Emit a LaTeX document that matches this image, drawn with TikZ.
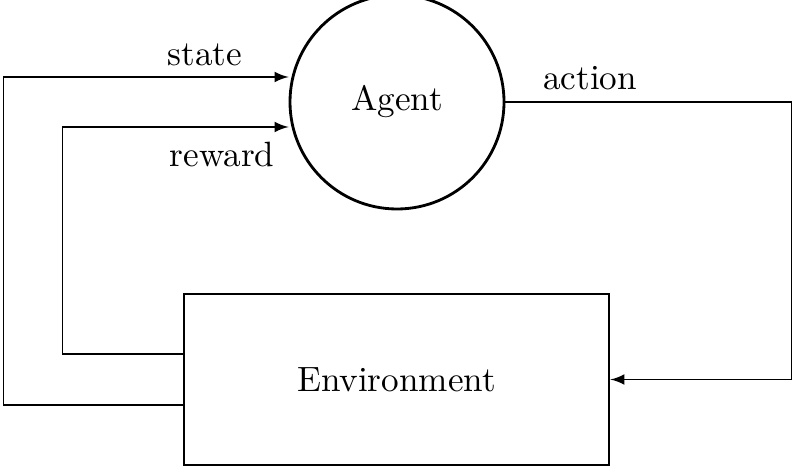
\documentclass[tikz,border=0pt]{standalone}
\usetikzlibrary{positioning}
\begin{document}
\begin{tikzpicture}[>=latex,every node/.style={font=\normalsize}]
\useasboundingbox (0,0) rectangle (7.98,4.71);
% agent and environment
\node[draw,thick,circle,minimum size=2.14cm,inner sep=0pt] (agent) at (3.97,3.69) {Agent};
\node[draw,thick,minimum width=4.25cm,minimum height=1.71cm,inner sep=0pt] (env) at (3.965,0.915) {Environment};
% feedback loops
\draw[->] ([yshift=-2.55mm]env.west) -- ++(-1.79,0) |- ([yshift=2.5mm]agent.west);
\draw[->] ([yshift=2.55mm]env.west) -- ++(-1.20,0) |- ([yshift=-2.5mm]agent.west);
\draw[->] (agent.east) -- ++(2.86,0) |- (env.east);
% labels
\node (statelbl) at (2.05,4.16) {state};
\node (rewardlbl) at (2.22,3.16) {reward};
\node (actionlbl) at (5.90,3.93) {action};
\end{tikzpicture}
\end{document}
